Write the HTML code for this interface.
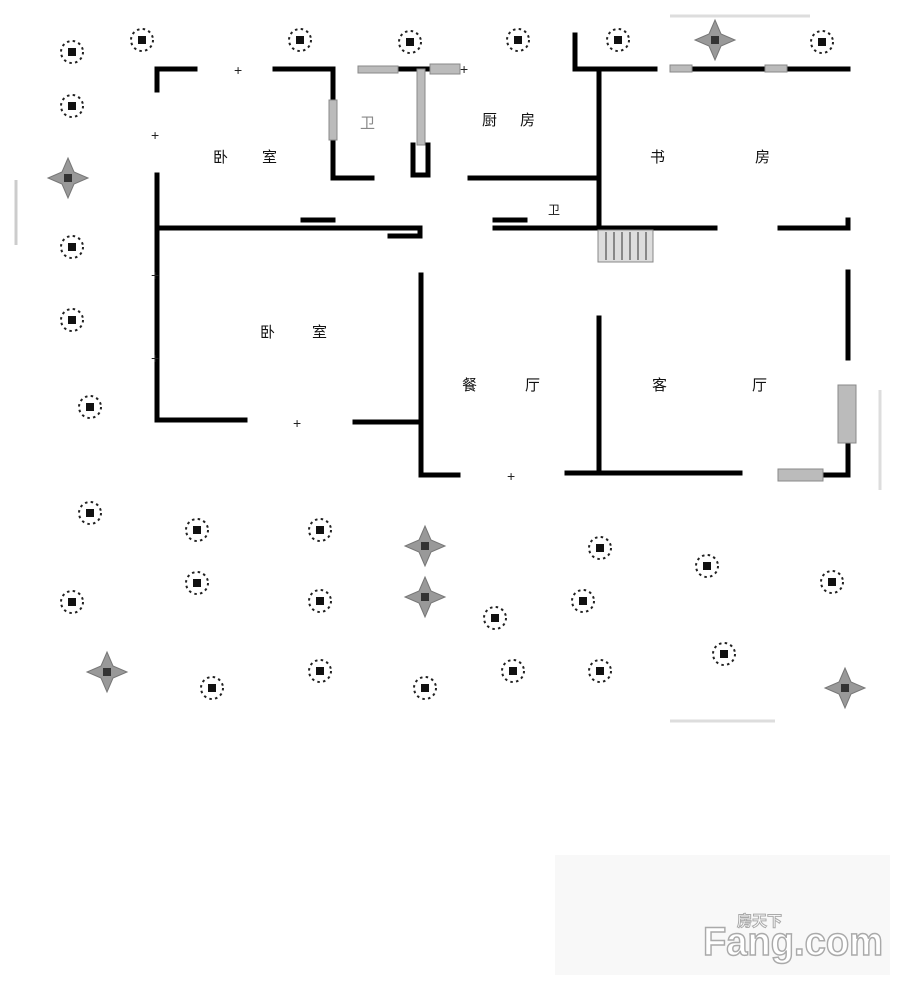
<!DOCTYPE html>
<html><head><meta charset="utf-8"><style>
html,body{margin:0;padding:0;background:#fff;width:900px;height:981px;overflow:hidden}
svg{display:block}
text{font-family:"Liberation Sans","Noto Sans CJK SC",sans-serif}
</style></head><body>
<svg width="900" height="981" viewBox="0 0 900 981" xmlns="http://www.w3.org/2000/svg">
<defs>
<g id="t">
<rect x="-4" y="-4" width="8" height="8" fill="#111"/>
<circle r="11" fill="none" stroke="#222" stroke-width="2" stroke-dasharray="2.5 3.3"/>
</g>
<g id="d">
<polygon points="0,-20 6,-6 20,0 6,6 0,20 -6,6 -20,0 -6,-6" fill="#999" stroke="#777"/>
<rect x="-4" y="-4" width="8" height="8" fill="#333"/>
</g>
</defs>
<rect width="900" height="981" fill="#fff"/>
<rect x="555" y="855" width="335" height="120" fill="#f8f8f8"/>
<line x1="670" y1="16" x2="810" y2="16" stroke="#ddd" stroke-width="3"/>
<line x1="670" y1="721" x2="775" y2="721" stroke="#ddd" stroke-width="3"/>
<line x1="16" y1="180" x2="16" y2="245" stroke="#ccc" stroke-width="3"/>
<line x1="880" y1="390" x2="880" y2="490" stroke="#ddd" stroke-width="3"/>
<g stroke="#000" stroke-width="5" fill="none" stroke-linecap="square">
<path d="M157,90 V69 H195"/>
<line x1="275" y1="69" x2="330" y2="69"/>
<path d="M333,69 V178 H372"/>
<line x1="398" y1="69" x2="430" y2="69"/>
<path d="M157,175 V420 H245"/>
<line x1="157" y1="228" x2="420" y2="228"/>
<path d="M303,220 H333 M390,236 H420 V228"/>
<path d="M470,178 H597"/>
<path d="M495,228 H599 M495,220 H525"/>
<path d="M575,35 V69 H599"/>
<path d="M599,69 V228 H715"/>
<line x1="580" y1="69" x2="655" y2="69"/>
<line x1="690" y1="69" x2="765" y2="69"/>
<line x1="785" y1="69" x2="848" y2="69"/>
<path d="M780,228 H848 V220"/>
<path d="M355,422 H420"/>
<path d="M421,275 V475 H458"/>
<path d="M567,473 H740"/>
<line x1="599" y1="318" x2="599" y2="473"/>
<line x1="848" y1="272" x2="848" y2="358"/>
<path d="M848,445 V475 H820"/>
<path d="M413,145 V175 H428 V145"/>
</g>
<g fill="#bbb" stroke="#888">
<rect x="329" y="100" width="8" height="40"/>
<rect x="417" y="69" width="8" height="76"/>
<rect x="358" y="66" width="40" height="7"/>
<rect x="430" y="64" width="30" height="10"/>
<rect x="670" y="65" width="22" height="7"/>
<rect x="765" y="65" width="22" height="7"/>
<rect x="838" y="385" width="18" height="58"/>
<rect x="778" y="469" width="45" height="12"/>
<rect x="598" y="230" width="55" height="32" fill="#ddd"/>
</g>
<g stroke="#888" stroke-width="2">
<line x1="606" y1="232" x2="606" y2="260"/><line x1="614" y1="232" x2="614" y2="260"/>
<line x1="622" y1="232" x2="622" y2="260"/><line x1="630" y1="232" x2="630" y2="260"/>
<line x1="638" y1="232" x2="638" y2="260"/><line x1="646" y1="232" x2="646" y2="260"/>
</g>
<g font-size="15" fill="#111">
<text x="213" y="162">卧</text><text x="262" y="162">室</text>
<text x="360" y="128" fill="#888">卫</text>
<text x="482" y="125">厨</text><text x="520" y="125">房</text>
<text x="650" y="162">书</text><text x="755" y="162">房</text>
<text x="548" y="214" font-size="12">卫</text>
<text x="260" y="337">卧</text><text x="312" y="337">室</text>
<text x="462" y="390">餐</text><text x="525" y="390">厅</text>
<text x="652" y="390">客</text><text x="752" y="390">厅</text>
</g>
<g>
<use href="#t" x="72" y="52"/><use href="#t" x="142" y="40"/><use href="#t" x="300" y="40"/>
<use href="#t" x="410" y="42"/><use href="#t" x="518" y="40"/><use href="#t" x="618" y="40"/>
<use href="#t" x="822" y="42"/><use href="#t" x="72" y="106"/><use href="#t" x="72" y="247"/>
<use href="#t" x="72" y="320"/><use href="#t" x="90" y="407"/><use href="#t" x="90" y="513"/>
<use href="#t" x="197" y="530"/><use href="#t" x="320" y="530"/><use href="#t" x="600" y="548"/>
<use href="#t" x="707" y="566"/><use href="#t" x="832" y="582"/><use href="#t" x="197" y="583"/>
<use href="#t" x="320" y="601"/><use href="#t" x="583" y="601"/><use href="#t" x="495" y="618"/>
<use href="#t" x="72" y="602"/><use href="#t" x="724" y="654"/><use href="#t" x="320" y="671"/>
<use href="#t" x="513" y="671"/><use href="#t" x="600" y="671"/><use href="#t" x="212" y="688"/>
<use href="#t" x="425" y="688"/>
<use href="#d" x="715" y="40"/><use href="#d" x="68" y="178"/><use href="#d" x="425" y="546"/>
<use href="#d" x="425" y="597"/><use href="#d" x="107" y="672"/><use href="#d" x="845" y="688"/>
</g>
<g font-size="14" fill="#222">
<text x="234" y="75">+</text><text x="293" y="428">+</text><text x="507" y="481">+</text>
<text x="151" y="140">+</text><text x="151" y="280">+</text><text x="151" y="363">+</text>
<text x="460" y="74">+</text>
</g>
<text x="703" y="955" font-size="40" font-weight="bold" fill="#fff" stroke="#aaa" stroke-width="1.5" textLength="180" lengthAdjust="spacingAndGlyphs">Fang.com</text>
<text x="737" y="926" font-size="15" font-weight="bold" fill="#fff" stroke="#aaa" stroke-width="1">房天下</text>
</svg>
</body></html>
